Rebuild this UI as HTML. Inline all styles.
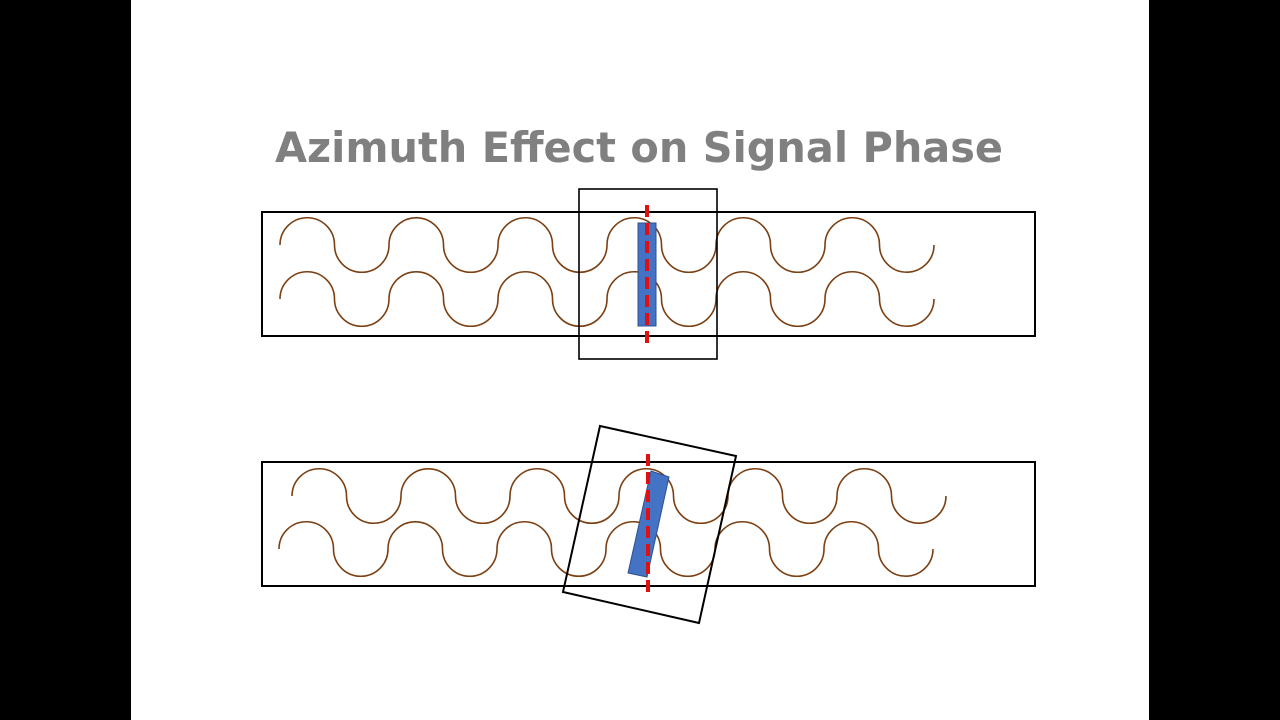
<!DOCTYPE html>
<html><head><meta charset="utf-8"><style>
html,body{margin:0;padding:0;background:#000;}
svg{display:block;}
</style></head><body>
<svg width="1280" height="720" viewBox="0 0 1280 720" xmlns="http://www.w3.org/2000/svg">
<rect x="0" y="0" width="1280" height="720" fill="#000"/>
<rect x="131" y="0" width="1018" height="720" fill="#fff"/>
<text x="639" y="162" text-anchor="middle" font-family="DejaVu Sans, Liberation Sans, sans-serif" font-weight="bold" font-size="42" fill="#808080" textLength="728" lengthAdjust="spacingAndGlyphs">Azimuth Effect on Signal Phase</text>

<defs>
<path id="w" d="M0,0 a27.25,27.25 0 0 1 54.5,0 a27.25,27.25 0 0 0 54.5,0 a27.25,27.25 0 0 1 54.5,0 a27.25,27.25 0 0 0 54.5,0 a27.25,27.25 0 0 1 54.5,0 a27.25,27.25 0 0 0 54.5,0 a27.25,27.25 0 0 1 54.5,0 a27.25,27.25 0 0 0 54.5,0 a27.25,27.25 0 0 1 54.5,0 a27.25,27.25 0 0 0 54.5,0 a27.25,27.25 0 0 1 54.5,0 a27.25,27.25 0 0 0 54.5,0" fill="none" stroke="#7b3f12" stroke-width="1.6"/>
</defs>

<!-- top -->
<rect x="262" y="212" width="773" height="124" fill="none" stroke="#000" stroke-width="2"/>
<use href="#w" x="280" y="245"/>
<use href="#w" x="280" y="299"/>
<rect x="579" y="189" width="138" height="170" fill="none" stroke="#000" stroke-width="1.6"/>
<rect x="638" y="223" width="18" height="103" fill="#4472c4" stroke="#2f528f" stroke-width="1"/>
<line x1="647" y1="205" x2="647" y2="345" stroke="#e01010" stroke-width="4" stroke-dasharray="12,6"/>

<!-- bottom -->
<rect x="262" y="462" width="773" height="124" fill="none" stroke="#000" stroke-width="2"/>
<use href="#w" x="292" y="496"/>
<use href="#w" x="279" y="549"/>
<polygon points="600,426 736,456 699,623 563,592" fill="none" stroke="#000" stroke-width="2"/>
<polygon points="651,471 669,477 647,577 628,573" fill="#4472c4" stroke="#2f528f" stroke-width="1"/>
<line x1="648" y1="454" x2="648" y2="594" stroke="#e01010" stroke-width="4" stroke-dasharray="12,6"/>
</svg>
</body></html>
